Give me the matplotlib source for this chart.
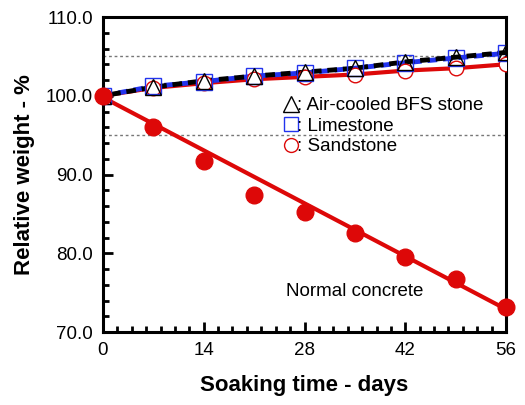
import matplotlib
matplotlib.use("Agg")
import matplotlib.pyplot as plt
from matplotlib.lines import Line2D
from matplotlib.ticker import MultipleLocator, FormatStrFormatter

plt.rcParams['font.family'] = ['Liberation Sans', 'DejaVu Sans']

days = [0, 7, 14, 21, 28, 35, 42, 49, 56]
normal_concrete = [100.0, 96.1, 91.7, 87.4, 85.2, 82.6, 79.5, 76.8, 73.2]
normal_fit_days = [0, 56]
normal_fit_values = [99.8, 72.9]
bfs_stone = [100.0, 101.1, 101.9, 102.5, 103.0, 103.5, 104.3, 104.9, 105.5]
limestone = [100.0, 101.2, 101.8, 102.5, 102.9, 103.5, 104.2, 104.8, 105.4]
sandstone = [100.0, 101.0, 101.6, 102.1, 102.4, 102.7, 103.2, 103.5, 104.0]
ref_levels = [105, 95]
x_ticks = [0, 14, 28, 42, 56]

RED = '#dd0808'
BLUE = '#2233ee'

fig = plt.figure(figsize=(5.25, 4.05), dpi=100)
ax = fig.add_axes([0.196, 0.180, 0.768, 0.778])

for lv in ref_levels:
    ax.axhline(lv, color='#777777', lw=1.0, ls=(0, (2, 2)), zorder=1)

# fitted lines
ax.plot(days, sandstone, color=RED, lw=3.0, zorder=2)
ax.plot(days, limestone, color=BLUE, lw=3.5, ls=(0, (2, 1.2)), zorder=3)
ax.plot(days, bfs_stone, color='black', lw=3.5, ls=(1.5, (2, 1.2)), zorder=3)
ax.plot(normal_fit_days, normal_fit_values, color=RED, lw=3.0, zorder=2)

# markers
ax.plot(days, sandstone, ls='none', marker='o', ms=10.5, mfc='white', mec=RED, mew=1.0, zorder=4)
ax.plot(days, limestone, ls='none', marker='s', ms=11.5, mfc='none', mec=BLUE, mew=1.0, zorder=5)
ax.plot(days, bfs_stone, ls='none', marker='^', ms=11.5, mfc='none', mec='black', mew=1.0, zorder=6)
ax.plot(days, normal_concrete, ls='none', marker='o', ms=12, mfc=RED, mec=RED, zorder=7, clip_on=False)

handles = [
    Line2D([], [], ls='none', marker='^', ms=11, mfc='none', mec='black', mew=1.0),
    Line2D([], [], ls='none', marker='s', ms=10, mfc='none', mec=BLUE, mew=1.0),
    Line2D([], [], ls='none', marker='o', ms=10, mfc='none', mec=RED, mew=1.0),
]
labels = [': Air-cooled BFS stone', ': Limestone', ': Sandstone']
ax.legend(handles, labels, loc='upper left', bbox_to_anchor=(0.452, 0.745),
          frameon=False, fontsize=13.5, handlelength=0.6, handletextpad=0.05,
          labelspacing=0.17, borderaxespad=0, borderpad=0)

ax.text(25.4, 75.1, 'Normal concrete', fontsize=13.5, va='center', ha='left')

ax.set_xlim(0, 56)
ax.set_ylim(70, 110)
ax.set_xticks(x_ticks)
ax.xaxis.set_minor_locator(MultipleLocator(2))
ax.yaxis.set_major_locator(MultipleLocator(10))
ax.yaxis.set_minor_locator(MultipleLocator(2))
ax.yaxis.set_major_formatter(FormatStrFormatter('%.1f'))

ax.tick_params(which='both', direction='in', top=False, right=False, width=2.0,
               labelsize=13.5)
ax.tick_params(which='major', length=7, pad=7)
ax.tick_params(which='minor', length=4)
for sp in ax.spines.values():
    sp.set_linewidth(2.2)

ax.set_xlabel('Soaking time - days', fontsize=16, fontweight='bold', labelpad=12)
ax.set_ylabel('Relative weight - %', fontsize=16, fontweight='bold', labelpad=8)

fig.savefig('out.png', dpi=100)
